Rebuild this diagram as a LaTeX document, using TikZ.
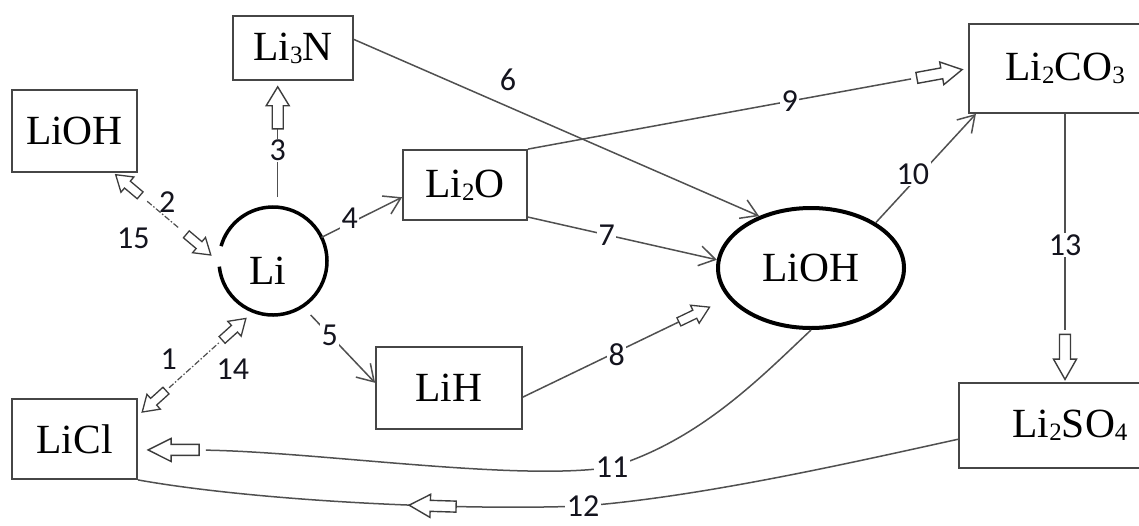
\documentclass[tikz,border=0pt]{standalone}
\usepackage{fontspec}
\setmainfont{Liberation Serif}
\newfontfamily\numfont{Carlito}
\usetikzlibrary{arrows.meta,calc,shapes.geometric}
\definecolor{boxgray}{RGB}{70,70,70}
\definecolor{linegray}{RGB}{80,80,80}
\definecolor{numcol}{RGB}{20,20,30}
\definecolor{arrgray}{RGB}{60,60,60}
\newcommand\chs[1]{\raisebox{-3pt}{\fontsize{25}{25}\selectfont #1}}
\begin{document}
\begin{tikzpicture}[x=1pt,y=-1pt,
  chembox/.style={draw=boxgray, line width=1.8pt, rectangle, inner sep=0pt, font=\fontsize{41.5}{48}\selectfont},
  chemtext/.style={inner sep=0pt, font=\fontsize{41.5}{48}\selectfont},
  conn/.style={draw=linegray, line width=1.5pt},
  barb/.style={conn, -{Straight Barb[length=16pt,width=20pt]}},
  dashconn/.style={draw=linegray, line width=1.2pt, dash pattern=on 6pt off 2pt on 1.5pt off 2pt},
  num/.style={font=\numfont\fontsize{32}{36}\selectfont, text=numcol, inner sep=1.5pt},
  numw/.style={num, fill=white},
  ba/.style={sloped, allow upside down},
  pics/barrow/.style={code={\draw[draw=arrgray, fill=white, line width=1.4pt, line join=miter, solid, arrows=-, shorten <=0pt, shorten >=0pt]
     ({-0.5*(#1)},-5.5) -- ({0.05*(#1)},-5.5) -- ({0.05*(#1)},-11.5) -- ({0.5*(#1)},0) -- ({0.05*(#1)},11.5) -- ({0.05*(#1)},5.5) -- ({-0.5*(#1)},5.5) -- cycle;}},
  pics/sbarrow/.style={code={\draw[draw=arrgray, fill=white, line width=1.3pt, line join=miter, solid, arrows=-, shorten <=0pt, shorten >=0pt]
     ({-0.5*(#1)},-4.5) -- ({0.02*(#1)},-4.5) -- ({0.02*(#1)},-10) -- ({0.5*(#1)},0) -- ({0.02*(#1)},10) -- ({0.02*(#1)},4.5) -- ({-0.5*(#1)},4.5) -- cycle;}},
]
\fill[white] (0,0) rectangle (1139,525);
\useasboundingbox (0,0) rectangle (1139,525);

% nodes
\node[chembox, minimum width=120pt, minimum height=64pt] (li3n) at (293,48) {Li\chs{3}N};
\node[chembox, minimum width=125pt, minimum height=82pt] (lioha) at (74.5,131) {LiOH};
\node[chembox, minimum width=124pt, minimum height=70pt] (li2o) at (465,185) {Li\chs{2}O};
\node[chembox, minimum width=146pt, minimum height=82pt] (lih) at (449,388) {LiH};
\node[chembox, minimum width=125pt, minimum height=80pt] (licl) at (74.5,439) {LiCl};
\node[chembox, minimum width=192pt, minimum height=89pt] (li2co3) at (1065,68.5) {Li\chs{2}CO\chs{3}};
\node[chembox, minimum width=222pt, minimum height=85pt] (li2so4) at (1070,425.5) {Li\chs{2}SO\chs{4}};
\node[ellipse, draw=black, line width=4pt, minimum width=186pt, minimum height=120pt, chemtext] (liohb) at (811,268) {LiOH};
\node[circle, minimum size=108pt, inner sep=0pt, outer sep=0pt] (li) at (273,261) {};
\node[chemtext] (litxt) at (268,271) {Li};
\begin{scope}[shift={(li.center)}, x=1pt, y=1pt]
  \draw[line width=3.5pt] (186:54) arc[start angle=186, end angle=524, radius=54];
\end{scope}

% 3
\draw[conn, shorten <=10pt, shorten >=48pt] (li.85) -- (li.85 |- li3n.south)
  node[numw, pos=.449] {3}
  pic[pos=.787, ba]{barrow=42};
% 2 / 15
\draw[dashconn, shorten <=44pt, shorten >=52pt] (lioha.-47) -- (li.181)
  node[num, pos=.5, xshift=1pt, yshift=15pt] {2}
  node[num, pos=.5, xshift=-33pt, yshift=-21pt] {15}
  pic[pos=.136, ba]{sbarrow=-32}
  pic[pos=.806, ba]{sbarrow=32};
% 1 / 14
\draw[dashconn, shorten <=42pt, shorten >=46pt] (licl.20) -- (li.249)
  node[num, pos=.5, xshift=-27pt, yshift=4pt] {1}
  node[num, pos=.5, xshift=37pt, yshift=-6pt] {14}
  pic[pos=.14, ba]{sbarrow=-32}
  pic[pos=.83, ba]{sbarrow=32};
% 4
\draw[barb] (li.26) -- (li2o.191) node[numw, pos=.35, yshift=5pt]{4};
% 5
\draw[barb, shorten <=12pt] (li.-57) -- (lih.176) node[numw, pos=.375]{5};
% 6
\draw[barb] (li3n.8) -- (liohb.135) node[num, pos=.38, yshift=27pt]{6};
% 7
\draw[barb] (li2o.-27) -- (liohb.175) node[numw, pos=.417]{7};
% 8
\draw[conn, shorten >=55pt] (lih.-7) -- (liohb.200) node[numw, pos=.457, yshift=-3pt]{8}
  pic[pos=.835, ba]{sbarrow=34};
% 9
\draw[conn, shorten >=58pt] (li2o.north east) -- (li2co3.west) node[numw, pos=.595]{9}
  pic[pos=.935, ba]{barrow=46};
% 10
\draw[barb] (liohb.35) -- (li2co3.207) node[numw, pos=.37, yshift=8pt]{10};
% 11
\draw[conn, shorten >=68pt] (liohb.south) .. controls (760,378) and (700,440) .. (612,467) node[numw]{11}
  .. controls (520,482) and (320,452) .. (licl.-9) pic[pos=.935]{barrow=-51};
% 12
\coordinate (c12) at (583,506);
\draw[conn] (li2so4.187) .. controls (850,463) and (700,497) .. (c12)
  .. controls (450,511) and (250,500) .. (licl.south east);
\path (c12) .. controls (450,511) and (250,500) .. (licl.south east) pic[pos=.335, ba]{barrow=47};
\node[numw] (n12) at (c12) {12};
% 13
\draw[conn, shorten >=52pt] (li2co3.south) -- (li2co3.south |- li2so4.north) node[numw, pos=.489]{13}
  pic[pos=.906, ba]{barrow=45};
\end{tikzpicture}
\end{document}
